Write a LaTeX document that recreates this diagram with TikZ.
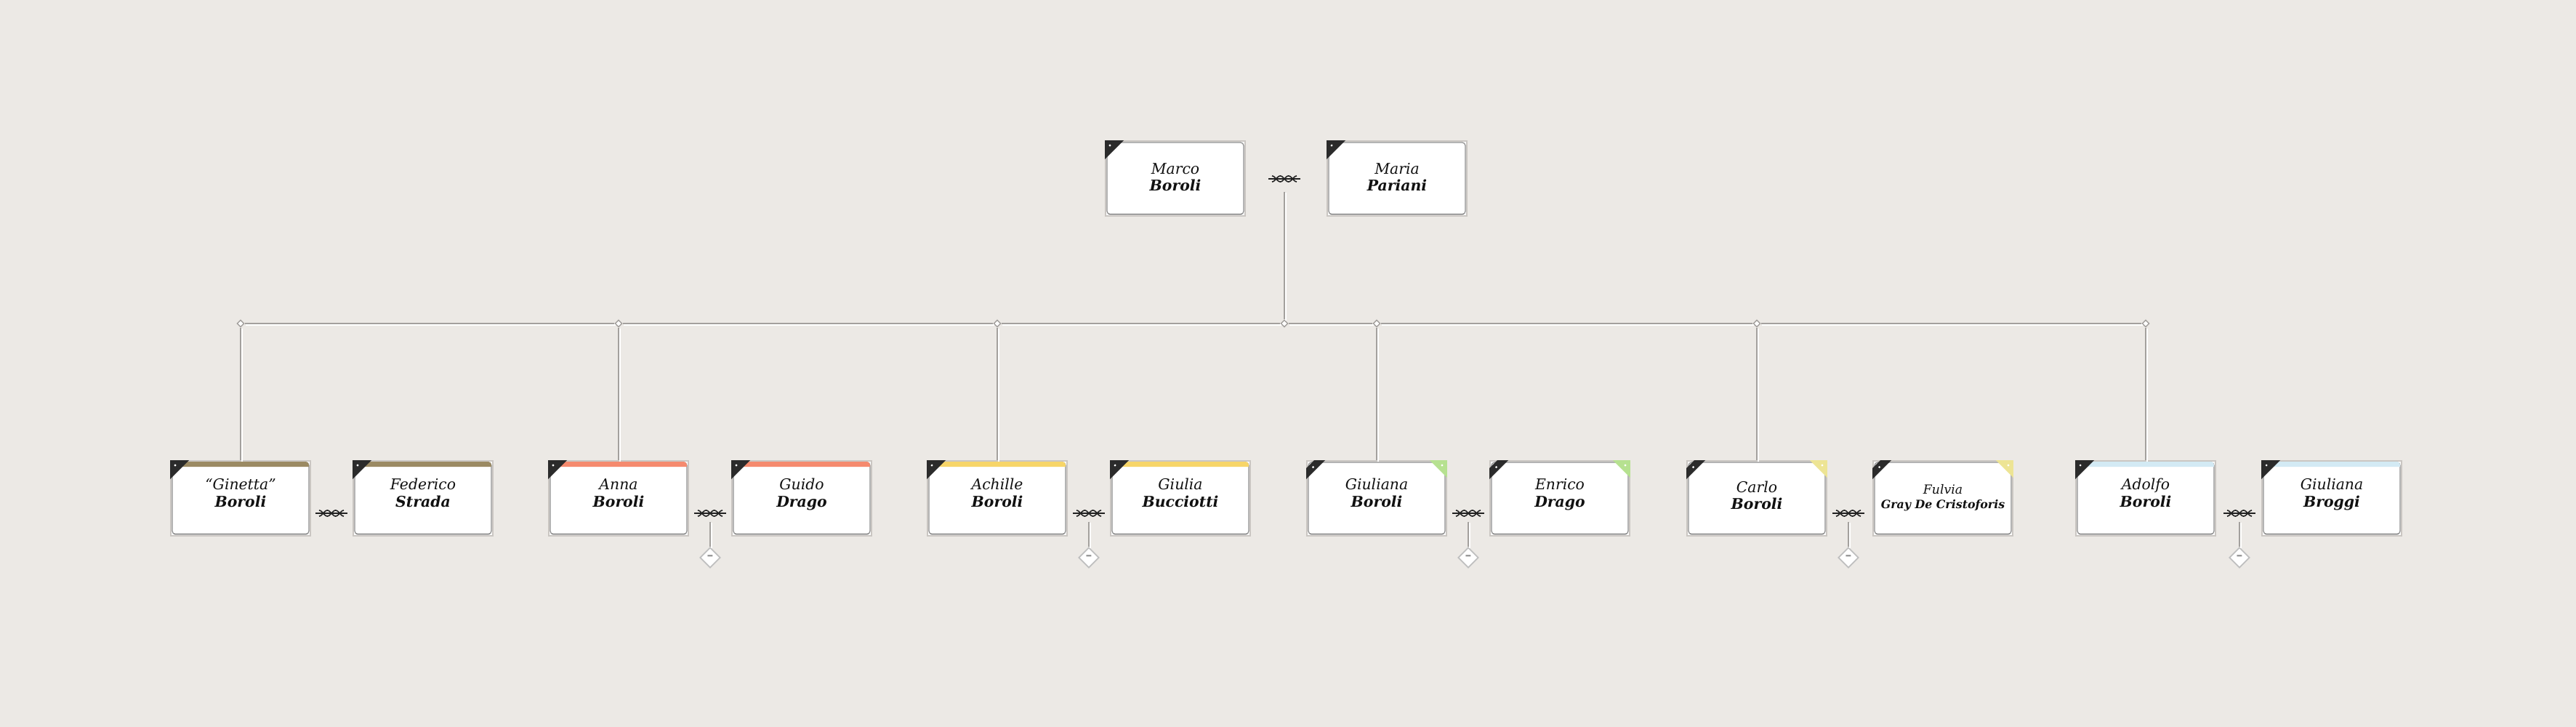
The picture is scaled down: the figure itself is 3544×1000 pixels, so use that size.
\documentclass[tikz,border=0pt]{standalone}
\usepackage{fontspec}
\setmainfont{DejaVu Serif}
\usetikzlibrary{shapes.geometric}
\definecolor{bg}{HTML}{ECE9E5}
\definecolor{lineg}{HTML}{A3A09D}
\definecolor{cardedge}{HTML}{CAC6C2}
\definecolor{cardin}{HTML}{8C8C8C}
\definecolor{cardbot}{HTML}{666666}
\definecolor{darkc}{HTML}{2B2B2B}
\definecolor{txt}{HTML}{111111}
\definecolor{cbrown}{HTML}{9B8A63}
\definecolor{csalmon}{HTML}{F58A6E}
\definecolor{cyellow}{HTML}{F7D568}
\definecolor{cblue}{HTML}{D3EAF4}
\definecolor{cgreen}{HTML}{B6E190}
\definecolor{cpale}{HTML}{EDE494}
\definecolor{knotc}{HTML}{222222}
\tikzset{
  card/.style={draw=cardedge, fill=white, line width=0.5pt, minimum width=1.92cm,
    minimum height=1.03cm, inner sep=0pt, anchor=north},
  innerbox/.style={draw=cardin, line width=0.35pt, rounded corners=1.2pt},
  fname/.style={anchor=base, inner sep=0pt, text=txt, font=\fontsize{5.8pt}{6.8pt}\selectfont\itshape},
  lname/.style={anchor=base, inner sep=0pt, text=txt, font=\fontsize{5.8pt}{6.8pt}\selectfont\bfseries\itshape},
  conn/.style={draw=lineg, line width=0.55pt,
    preaction={draw=white, line width=0.55pt, transform canvas={shift={(0.45pt,-0.45pt)}}}},
  jn/.style={diamond, draw=lineg, fill=white, line width=0.4pt, minimum width=0.1cm,
    minimum height=0.1cm, inner sep=0pt},
  cdiam/.style={diamond, draw=black!25, fill=white, line width=0.5pt, minimum width=0.28cm,
    minimum height=0.28cm, inner sep=0pt, text=black!45, font=\fontsize{5pt}{5pt}\selectfont\bfseries},
  knotbox/.style={minimum width=0.46cm, minimum height=0.22cm, inner sep=0pt,
    path picture={
      \begin{scope}[shift={(path picture bounding box.center)}]
        \draw[knotc, line width=0.35pt] (-22,0) -- (22,0);
        \draw[knotc, line width=0.45pt] plot[domain=-17:17, samples=50, smooth] (\x,{4*sin(15.88*\x)});
        \draw[knotc, line width=0.45pt] plot[domain=-17:17, samples=50, smooth] (\x,{-4*sin(15.88*\x)});
      \end{scope}
    }},
}
% #1 name, #2 centre x, #3 top y, #4 first name, #5 last name, #6 first baseline, #7 last baseline
\newcommand\personcard[7]{%
  \node[card] (#1) at (#2,#3) {};
  \draw[innerbox] ([shift={(3,3)}]#1.north west) rectangle ([shift={(-3,-3)}]#1.south east);
  \draw[cardbot, line width=0.5pt] ([shift={(5,-3.3)}]#1.south west) -- ([shift={(-5,-3.3)}]#1.south east);
  \node[fname] (#1-f) at ([shift={(0,#6)}]#1.north) {#4};
  \node[lname] (#1-l) at ([shift={(0,#7)}]#1.north) {#5};
}
\newcommand\topbar[2]{%
  \fill[#2] ([shift={(3,9)}]#1.north west) {[rounded corners=1.2pt] -- ([shift={(3,2)}]#1.north west)
    -- ([shift={(-3,2)}]#1.north east)} -- ([shift={(-3,9)}]#1.north east) -- cycle;
}
\newcommand\cornertri[1]{%
  \fill[darkc] (#1.north west) -- ([shift={(26,0)}]#1.north west) -- ([shift={(0,26)}]#1.north west) -- cycle;
  \fill[white] ([shift={(7,7)}]#1.north west) circle[radius=0.45pt];
}
\newcommand\cornerband[2]{%
  \fill[darkc] ([shift={(11,0)}]#1.north west) -- ([shift={(26,0)}]#1.north west)
    -- ([shift={(0,26)}]#1.north west) -- ([shift={(0,11)}]#1.north west) -- cycle;
  \fill[white] ([shift={(9.5,9.5)}]#1.north west) circle[radius=0.45pt];
  \fill[#2] ([shift={(-24,0)}]#1.north east) -- (#1.north east) -- ([shift={(0,24)}]#1.north east) -- cycle;
  \fill[white] ([shift={(-7,7)}]#1.north east) circle[radius=0.45pt];
}
\begin{document}
\begin{tikzpicture}[x=0.01cm, y=-0.01cm]
\fill[bg] (0,0) rectangle (3544,1000);
\useasboundingbox (0,0) rectangle (3544,1000);

% ---- parents
\personcard{marco}{1617}{193}{Marco}{Boroli}{46}{69}
\personcard{maria}{1922}{193}{Maria}{Pariani}{46}{69}
\cornertri{marco}
\cornertri{maria}
\node[knotbox] (k0) at (1767,246) {};

% ---- junctions on the bar
\node[jn] (j1) at (331,445) {};
\node[jn] (j2) at (851,445) {};
\node[jn] (j3) at (1372,445) {};
\node[jn] (jp) at (1767,445) {};
\node[jn] (j4) at (1894,445) {};
\node[jn] (j5) at (2417,445) {};
\node[jn] (j6) at (2952,445) {};

% ---- children and spouses
\personcard{ginetta}{331}{633}{“Ginetta”}{Boroli}{40}{64}
\personcard{federico}{582}{633}{Federico}{Strada}{40}{64}
\topbar{ginetta}{cbrown}\topbar{federico}{cbrown}
\cornertri{ginetta}\cornertri{federico}
\node[knotbox] (k1) at (456,706) {};

\personcard{anna}{851}{633}{Anna}{Boroli}{40}{64}
\personcard{guido}{1103}{633}{Guido}{Drago}{40}{64}
\topbar{anna}{csalmon}\topbar{guido}{csalmon}
\cornertri{anna}\cornertri{guido}
\node[knotbox] (k2) at (977,706) {};
\node[cdiam] (d2) at (977,767) {–};

\personcard{achille}{1372}{633}{Achille}{Boroli}{40}{64}
\personcard{giulia}{1624}{633}{Giulia}{Bucciotti}{40}{64}
\topbar{achille}{cyellow}\topbar{giulia}{cyellow}
\cornertri{achille}\cornertri{giulia}
\node[knotbox] (k3) at (1498,706) {};
\node[cdiam] (d3) at (1498,767) {–};

\personcard{giuliana}{1894}{633}{Giuliana}{Boroli}{40}{64}
\personcard{enrico}{2146}{633}{Enrico}{Drago}{40}{64}
\cornerband{giuliana}{cgreen}\cornerband{enrico}{cgreen}
\node[knotbox] (k4) at (2020,706) {};
\node[cdiam] (d4) at (2020,767) {–};

\personcard{carlo}{2417}{633}{Carlo}{Boroli}{44}{67}
\node[card] (fulvia) at (2673,633) {};
\draw[innerbox] ([shift={(3,3)}]fulvia.north west) rectangle ([shift={(-3,-3)}]fulvia.south east);
\draw[cardbot, line width=0.5pt] ([shift={(5,-3.3)}]fulvia.south west) -- ([shift={(-5,-3.3)}]fulvia.south east);
\node[fname, font=\fontsize{4.9pt}{5.9pt}\selectfont\itshape] (fulvia-f) at ([shift={(0,46)}]fulvia.north) {Fulvia};
\node[lname, font=\fontsize{4.5pt}{5.5pt}\selectfont\bfseries\itshape] (fulvia-l) at ([shift={(0,66)}]fulvia.north) {Gray De Cristoforis};
\cornerband{carlo}{cpale}\cornerband{fulvia}{cpale}
\node[knotbox] (k5) at (2543,706) {};
\node[cdiam] (d5) at (2543,767) {–};

\personcard{adolfo}{2952}{633}{Adolfo}{Boroli}{40}{64}
\personcard{broggi}{3208}{633}{Giuliana}{Broggi}{40}{64}
\topbar{adolfo}{cblue}\topbar{broggi}{cblue}
\cornertri{adolfo}\cornertri{broggi}
\node[knotbox] (k6) at (3081,706) {};
\node[cdiam] (d6) at (3081,767) {–};

% ---- connectors
\draw[conn, shorten <=1.7pt] (k0) -- (jp);
\draw[conn] (j1) -- (j2);
\draw[conn] (j2) -- (j3);
\draw[conn] (j3) -- (jp);
\draw[conn] (jp) -- (j4);
\draw[conn] (j4) -- (j5);
\draw[conn] (j5) -- (j6);
\draw[conn] (j1) -- (j1 |- ginetta.north);
\draw[conn] (j2) -- (j2 |- anna.north);
\draw[conn] (j3) -- (j3 |- achille.north);
\draw[conn] (j4) -- (j4 |- giuliana.north);
\draw[conn] (j5) -- (j5 |- carlo.north);
\draw[conn] (j6) -- (j6 |- adolfo.north);
\draw[conn] (k2) -- (d2);
\draw[conn] (k3) -- (d3);
\draw[conn] (k4) -- (d4);
\draw[conn] (k5) -- (d5);
\draw[conn] (k6) -- (d6);
\end{tikzpicture}
\end{document}
